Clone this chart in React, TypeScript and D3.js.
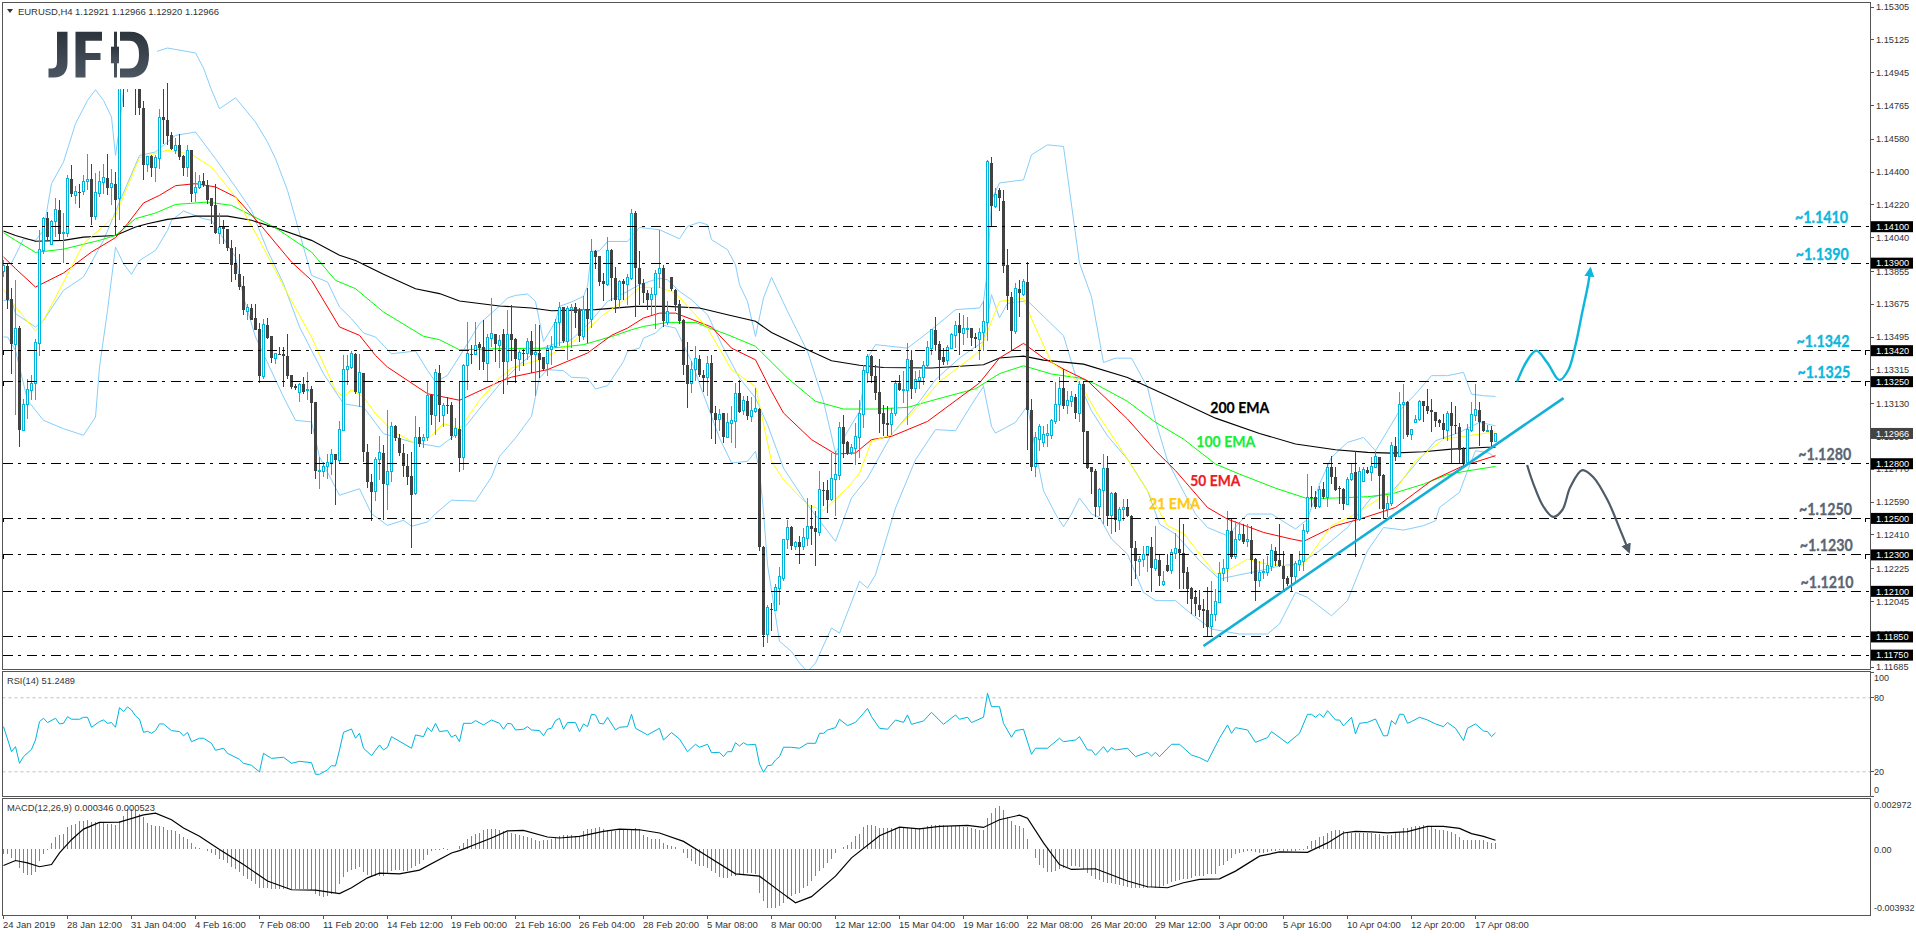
import * as d3 from "d3";

// all prices below are pips above 1.1000, bar numbers count from the left edge
type Pt = [number, number];

// open, high, low, close
const candles: number[][] = [
  [385.7,391.5,382.4,388.8],[388.3,390.1,364.7,369.6],[370.2,376.5,329.4,345.5],[345.5,380.9,306.5,354],[354.4,355.3,289.2,298.3],
  [298.3,315.7,297.9,312.6],[312.6,326.6,304.7,320.6],[320.2,328.5,314.8,324.2],[324.2,348.6,315.1,346.4],[346.2,408,338.9,397.4],
  [397,415.3,395.2,414.6],[414.6,418,402.5,404.3],[400,413.5,399.8,412.9],[412.8,425.9,404.3,419.3],[419.3,424.8,402.9,405.8],
  [406.2,417.5,390.1,406.7],[406.5,438.2,404.3,436.3],[436.3,443.6,426.3,427.7],[427.2,432.1,422.6,429.2],[429.2,433.2,420,428.8],
  [429.4,438.2,427.2,434.7],[434.7,450,429.9,435.8],[436.1,444.2,410.7,415.3],[415.8,439.6,413.5,428.6],[428,440.5,426.3,434.7],
  [434.5,444.2,427.7,436.9],[436.9,450,427.2,431.2],[431.4,441.6,421.7,433.6],[433.6,440,405.2,424.8],[425.3,492,413.5,489.3],
  [489.3,492,475.6,486.6],[485.7,492,483.9,488.4],[488.4,497,486,493],[493,497,471,487],[487,490,471,475.3],
  [475.3,478.7,435.4,443.8],[444.2,448.8,440,448.6],[448.6,449.1,437.2,442],[442.4,449.1,434.5,447.8],[447.5,474.7,441.8,469.8],
  [470.1,485.7,455.5,468.3],[468.7,488.8,454.6,459.5],[460.1,461.9,451.9,452.8],[451.9,458.8,450,454.6],[454.6,460.6,446.4,448.2],
  [448.6,449.1,437.6,442.4],[442.4,454.6,437.2,451.9],[451.9,452.2,423.5,428],[428.5,440,423.5,431.4],[431.4,438.2,430.8,435],
  [435,439.4,431.8,432.8],[433,435.8,422.6,424.4],[425.9,426,411.3,421.2],[421.7,433.6,405.8,406.5],[406.5,417.5,400.7,409.4],
  [409.8,413.8,400.7,408.7],[408.9,409,396.7,398.3],[398.5,402.9,379.7,388.8],[389.7,398.8,380.6,384.2],[384.2,395.2,375.1,376.9],
  [377.3,382.8,361.4,364.1],[363.6,367.4,358.6,365.6],[365.6,367.8,358.6,359],[359.7,367.4,353.2,353.5],[354,357.2,324.2,328.1],
  [328.1,359.2,326.6,356.3],[356.3,360.1,348.6,349.1],[349.9,350,335.2,338],[337.8,340.8,334.9,340.3],[340,344,339.4,339.6],
  [340.3,344,322.1,339],[339.3,350.9,326.6,328.1],[328.5,328.6,321.2,322.1],[322.8,323.5,320.2,321.3],[318.8,324.2,313.9,323.5],
  [323.9,327.5,318.4,319.5],[320,330.1,314.8,320.6],[321.2,322.4,296.5,313.3],[313.9,314,271.8,276],[275.6,283.7,266.3,276.4],
  [276,281,272.7,278.6],[278.2,285.5,271.8,280.6],[280.4,287.9,273.6,285.2],[285.2,285.5,257.2,281.9],[281.9,303.4,280,298.7],
  [298.3,339.4,297.9,331.6],[331.9,339.4,323,333.4],[333,341.8,332.1,340.3],[340.3,340.7,318.4,319.3],[319.3,340.3,311.1,329.9],
  [329.9,330,281,286.4],[286.4,291,266.9,270],[270.2,274.5,248.6,264.5],[264.5,283.7,259.6,282.2],[282.2,295,270.9,286],
  [286,290.1,249,268.7],[268.7,309.6,254.8,276],[276,302.9,270,300.5],[300.5,301,292.5,293.9],[294.3,296.1,284,285.9],
  [286,291,272.7,278.6],[279,285.5,268.2,272.7],[273.1,286.4,233.8,262.8],[263.6,306,263,294.6],[294.6,300.2,289.2,290.6],
  [292.5,296.1,288.8,294.6],[294.6,324.8,292.5,317.3],[317.9,318.4,301,306.5],[306.7,332.1,295.6,330.1],[329.9,333.9,302.9,312],
  [306.7,313.3,300.2,311.8],[312.2,316.4,307.5,311.7],[312,313.9,293.2,295],[295.6,305.3,294.3,299.2],[299.2,324.8,275.5,283.2],
  [283.2,334.9,276.7,333.6],[333.6,357.7,320.2,340.3],[340.3,344.9,334.9,340],[339.8,357.7,339.4,344.6],[345.5,346.8,331.2,343.5],
  [344,358.6,331.2,335.8],[335.2,351.3,324.8,349.1],[348.9,371.1,344,351.3],[351.3,351.4,335.8,345.8],[344.9,350.4,332.7,347.7],
  [351.1,354,318.4,335.8],[335.8,364.5,323.3,351.1],[351.1,367.2,336.1,348],[348.6,348.9,324.3,337.4],[337.4,342.5,330.6,340.9],
  [340.9,343.1,333.4,340.5],[340.5,348.9,337,347.1],[347.5,352.6,329.7,339.8],[339.8,356.6,316.9,340.9],[340.9,355.9,327,337],
  [338.3,338.4,330.6,331.8],[335,345.3,327.9,343.4],[342.7,350.2,334.3,344.2],[344.2,359.5,343.4,357.5],[357.3,368.5,344.4,365.7],
  [365.7,365.8,346.2,347.1],[347.1,366.3,337,365],[364.8,367.6,343.4,365.7],[365.7,368.1,354.4,362.8],[363.9,365.4,346.7,349.8],
  [349.8,371.8,348,364.5],[364.5,376.3,346.2,359.5],[359.3,403,354.4,396.5],[396.8,397.4,386.9,393.2],[393.7,393.8,377.3,379.5],
  [380,384.6,369,378.5],[378.2,404.3,377.3,396.8],[397.2,397.7,369,381.8],[381.8,387.9,362.6,369.9],[369.9,380.9,365.4,380],
  [380,381.5,369.9,378.5],[378.2,384,367.2,382.2],[381.5,419.9,380.9,417.3],[417.3,418.4,360.3,387.3],[387.3,396.5,367.2,378.5],
  [378.9,381.5,368.1,373.8],[373.8,375.4,364.5,369.6],[369.8,376.3,361.7,372.7],[372.7,386.4,354,384.6],[384.2,408.3,376.3,386.9],
  [387.3,389.1,355,358.1],[357.7,369,356.2,363.6],[382.2,382.6,374.9,376],[375.4,376,363.6,366.8],[367.6,369.9,356.6,358.1],
  [359,359.1,328.8,334.3],[334.3,346.7,310.5,323.9],[323.9,336.1,318.8,331.9],[331.6,344.4,325.2,337.6],[337.6,339.4,327.4,328.5],
  [328.8,331.6,319.3,327],[327.4,338.9,316.9,335],[335,339.4,293.7,307.8],[307.8,311.5,290.8,304.1],[304.1,310.2,298.1,307.2],
  [307.8,307.9,291.3,294.5],[294.6,307.8,294.5,302.5],[302.1,311.5,291.3,303.6],[303.2,324.3,288.6,318.6],[318.6,326.1,307.8,308.3],
  [309.1,316.9,306.9,314.6],[314.6,316.9,304.1,306],[306,316.4,302.9,309.1],[308.7,321.5,307.8,310.2],[310.2,310.5,232,234.1],
  [234.3,234.7,179.3,185.9],[186.6,202.7,181.7,201.4],[200.5,203.6,188.1,200],[199.4,214.2,199,212.2],[211.8,223.3,202.7,218],
  [217.3,238.8,215.5,238.7],[238.3,248.9,233.4,245.1],[245.3,245.7,232.9,234.7],[234.7,237.4,232.9,237],[237,240.2,225.2,234.5],
  [234.5,244.7,232.9,239.6],[239.2,261.2,234.7,245.7],[246,257.2,235.6,244.4],[244.7,253.9,224,242.5],[242,275.8,240.2,265.6],
  [265.6,270,256.6,265.2],[265.8,271.2,253,260.3],[260.3,285.9,259.4,271.8],[271.2,286.8,251.1,274],[273.6,302.9,271.2,300],
  [300,306.9,283.1,291],[291.9,292.3,285,285.9],[286.4,290.8,284.6,289],[288.6,302.3,279.5,295],[294.6,315.1,283.1,307.4],
  [306.9,334.3,299.6,331],[330.3,340.2,324.3,338.9],[338.9,339.4,324.3,327.9],[327.9,334.3,315.1,318.8],[319.3,337.6,296.8,307.4],
  [307.8,312.4,295,301.8],[302.3,311.5,295,301.4],[301.4,310.5,295.9,307.8],[307.4,326.1,306,323.9],[324.3,328.8,319.7,320.4],
  [320,330.6,313.3,320.8],[320.4,346.2,301.4,337],[337,342.2,315.7,321.1],[321.5,330.6,318.8,326.1],[325.7,331.6,321.1,327.5],
  [327.4,336.1,323.3,334],[333.6,347.1,332.5,344],[343.1,354,339.8,353.5],[353.5,360.3,341.6,345.3],[345.6,347.1,326.1,337],
  [338.3,343.4,334.3,335.8],[336.5,345.3,334.3,344],[343.4,351.7,343.4,350.8],[350.4,358.4,343.4,355.9],[356.2,362.6,339.8,351.5],
  [351.5,361.4,345.3,354],[353.9,360.3,348.9,354.2],[354.2,354.4,344.4,348.9],[349.3,351.7,343.4,348.2],[348,354.4,337,352.2],
  [351.9,369,341.6,358.1],[357.7,446.7,347.1,445.8],[445.1,448,409.6,421.1],[421.1,431.2,420.2,427.9],[430.3,431.2,418.4,425.7],
  [424,430.1,384.8,388.6],[389,397.8,364.3,372],[371.6,374,342.3,352.6],[352.4,378.9,351.1,376.3],[376.1,380.7,360.6,373.4],
  [373,381.3,372.1,380],[379.8,390.4,287.5,309.4],[309.4,315.5,276.2,278.3],[278.3,297.2,272.9,294.4],[293.5,301.7,287.1,300.3],
  [291.7,300.8,289,295.9],[295.7,301.7,289,296.3],[295.3,304.5,293.5,303.6],[303.2,324.6,301.7,312.7],[312.3,327.3,303.6,321.5],
  [321.5,331.9,310,311.4],[311.8,320,307.2,314.5],[314.2,320,310.9,316.7],[316.7,318.2,304.5,307.6],[307.6,325.5,302.7,323.7],
  [323.7,324.6,279.8,297.2],[297.7,298.1,277.1,277.4],[278,278.1,263.4,275.2],[275.8,277.1,250.6,256],[256.4,266.6,251.5,266.1],
  [265.2,285.3,246.9,277.6],[277.6,284.4,246,251.5],[251.5,264.3,241.4,263.9],[263.9,264.3,242.3,249.1],[249.1,256,243.6,255.1],
  [255,260.6,248.7,256],[256,260.6,250.6,251.1],[251.5,251.8,213.1,233.6],[233.7,237.8,216.7,226.4],[226.1,229.5,218.6,227.7],
  [227.5,235,223.1,230],[229.5,235,220.4,234.5],[234.5,239.6,209.4,222.6],[222.6,246,221,227.2],[227.2,230.4,213.1,218.6],
  [214,221.3,213.1,215.6],[224.4,230.4,220.4,221],[221.3,233.2,219.5,231.2],[230.8,241.8,227.7,233.7],[233.2,250.2,211.3,230.8],
  [230.8,246.9,211.3,219.8],[220.4,223.1,203,211.3],[211.8,212.2,197.5,205.6],[206.7,210.7,196.6,203],[202.7,210.7,195.7,199.9],
  [200.3,205.8,189.9,199.4],[199.7,212.2,184.8,190.6],[190.6,215.8,184.8,197.5],[197.5,211.3,193.5,204.3],[203.9,225.9,203.8,219.8],
  [219.8,227.7,215.8,222.8],[222.8,254.2,214.9,243.2],[243.2,249.6,227.7,229],[229,248.7,227.7,238.7],[238.5,247.8,237.8,241.4],
  [241.4,246.9,235.9,237.2],[237.2,246.9,234.1,238.7],[238.1,246,219.5,227.2],[227.7,228.1,204.9,215.8],[215.8,226.8,212.2,220.4],
  [220.2,227.7,216.7,221],[220.6,229.5,218.6,224],[223.7,236,221.3,232.3],[232.3,234.1,224,226.8],[227.2,246.9,223.1,224],
  [224,232.3,210.3,216.7],[217.3,218.6,213.1,214],[230.4,230.5,210.3,218],[218,226.8,214,225],[224.6,232.3,221.3,226.8],
  [226.4,246.9,220.9,243.2],[242.9,274.3,241.4,261.5],[261.5,267.9,256,261.2],[261.5,265.2,255.1,256],[256.4,267.9,255.7,265.7],
  [266.3,269.8,260.6,261.9],[261.5,279.8,256,278],[278.3,284.4,268.8,272.5],[272.9,278,265.2,265.5],[266.6,267.9,257.9,266.1],
  [266.3,266.6,254.6,257.9],[257.9,272.5,257.5,271.6],[271.4,279.8,270.7,274.9],[275.2,287.1,229,249.6],[249.6,278,248.7,275.8],
  [270.3,278,269.8,276.7],[276.7,278,274.3,275.1],[275.2,283.5,270.7,278.3],[278,287.1,277.6,283.8],[283.8,283.9,255.1,273.4],
  [274,274.1,249.6,255.1],[255.1,262.4,250.6,258.4],[258.4,291.7,257,289.9],[289.9,294.8,281.6,283.8],[283.8,319.1,283.7,312.7],
  [312.7,323.7,293.5,313.8],[313.8,314.2,294.4,295.9],[295.9,299,293,298.6],[302.7,306.9,302.1,304.5],[304.1,314.9,303.6,314],
  [314.2,314.5,302.7,311.6],[311.8,320.9,307.2,309],[309.4,315.5,297.2,308.1],[308.3,308.4,299.9,303.2],[304.1,304.5,299.9,302.1],
  [302.5,307.2,293.5,298.5],[298.1,308.7,292.6,307.6],[308,313.6,279.8,300.5],[301,311.8,296.3,300.5],[300.3,302.1,279.8,287.5],
  [288,288.9,278.9,279.8],[280.7,301.7,279.8,298.5],[298.1,313.6,297.2,306.9],[306.3,323.7,303.6,309.6],[309.6,313.6,289.9,302.7],
  [303.2,303.6,297.2,298.1],[298.1,301.2,297.2,298.4],[298.5,300.8,288.6,291.7],[292.1,296.6,292,296.6],
];

const ema200: Pt[] = [[0,407.6],[3,405.2],[8,402],[15,402.5],[20,404.3],[28,405.2],[33,409.8],[36,411.6],[41,414],[48,415.8],[56,415.8],[62,413.5],[68,409.4],[77,402.5],[84,394.3],[88,391.5],[95,383.9],[103,376],[109,373.3],[114,369.2],[124,366.5],[132,365.4],[137,363.9],[148,364.5],[158,366.3],[166,366.3],[174,365.4],[181,361.7],[188,358.1],[192,352],[201,342.5],[207,336.5],[214,334],[220,332.8],[232,332.5],[245,334.3],[249,338],[255,339],[260,336.8],[270,334.6],[281,327.3],[291,317.3],[303,305],[314,296.6],[323,290.8],[333,287.7],[341,286.2],[347,285.8],[355,286.6],[362,288],[371,289],[373,289]];
const ema100: Pt[] = [[0,406.7],[3,402.5],[8,395.9],[15,397.7],[24,402.5],[28,405.2],[33,414.4],[38,417.5],[43,422.2],[51,423.5],[57,421.7],[62,416.2],[68,409.4],[77,396.1],[83,380.6],[88,376],[95,363.2],[105,349.9],[109,348],[114,342.5],[124,343.1],[137,343.4],[145,345.3],[153,350.4],[157,353.5],[160,355.3],[166,357.5],[173,357.5],[177,354],[181,350.8],[188,344.4],[196,327],[203,314.2],[210,310],[218,310],[226,310.9],[232,314.6],[243,321.1],[249,329.4],[255,333.7],[262,329.2],[269,327],[273,323.7],[281,314.2],[288,302.7],[295,293.5],[303,279.8],[309,274.3],[318,266.6],[326,260.8],[333,261.2],[341,261.9],[347,263.4],[355,268.8],[361,274],[366,276.1],[373,278.5]];
const ema50: Pt[] = [[0,393.4],[3,387],[8,376.9],[15,384.6],[22,396.1],[28,404],[31,411.6],[35,423],[39,427.2],[43,432.5],[48,433.6],[53,431.8],[58,426.3],[64,411.6],[72,390.6],[77,380.6],[84,355],[89,350.4],[93,339.4],[96,333],[106,318.4],[114,314.8],[124,325],[127,327.5],[136,331.6],[146,340.7],[152,350.4],[156,354.4],[160,359.9],[164,362.6],[168,362.6],[177,355],[182,343.4],[188,337],[192,319.7],[195,307.8],[202,293.2],[208,285.3],[213,285.9],[217,293.2],[222,295],[231,303.2],[244,324.3],[249,338],[255,346],[260,338],[265,331.9],[271,325.5],[281,304.5],[288,287.1],[293,276.2],[301,256],[306,249.6],[315,242.3],[322,238.7],[325,237.4],[333,246],[339,249.6],[348,256],[357,270.7],[365,278.9],[373,284.4]];
const ema21: Pt[] = [[0,375.4],[3,366],[8,352.8],[10,358.6],[15,379.6],[20,400.7],[28,416.2],[34,447.8],[41,451.9],[47,449.7],[52,442.7],[58,426.3],[64,402.5],[71,373.3],[77,349.5],[83,320.2],[85,316.6],[87,320.6],[90,316.6],[93,307.5],[97,298.3],[103,291],[107,295.6],[110,302],[114,299.2],[119,314.8],[124,327],[127,332.5],[134,337],[140,343.4],[143,348],[150,361.7],[156,370.9],[159,376.7],[164,376.7],[168,373.6],[176,354.4],[182,331.6],[188,322.4],[192,281.3],[195,271.2],[201,257.5],[205,254.4],[211,266.7],[214,274.9],[217,292.3],[222,295.9],[229,312.4],[234,325],[244,341.6],[249,369],[255,370.8],[257,359.3],[262,335.6],[269,324.6],[273,309],[281,282.5],[287,261.5],[291,246],[295,241.8],[303,219.5],[306,221.3],[311,227.7],[315,225.3],[321,224],[325,224.6],[332,246],[338,252.4],[345,262.4],[347,262.4],[353,281.6],[360,293.5],[366,295.3],[373,297.5]];

const bbUpper: Pt[] = [[0,389.7],[2,390],[4,398.8],[5,403.4],[8,402.5],[10,408],[12,433.6],[15,445.5],[18,466.5],[21,479.3],[23,485.1],[25,479.3],[27,470.1],[28,449.1],[29,464.7],[30,485],[32,497],[35,504],[38,505.9],[41,508],[48,505.3],[50,497],[52,485],[54,474.7],[58,480.7],[63,467.4],[66,456.4],[68,447.3],[71,429.9],[73,414.4],[75,398.8],[77,383.3],[81,379.7],[84,366],[87,359.5],[90,351.7],[93,349.5],[97,340.3],[103,341.8],[106,331.2],[108,324.8],[111,328.5],[116,345.8],[119,356.8],[124,366.5],[126,370.9],[128,372.3],[131,373.1],[133,369],[134,358.1],[135,347],[138,358],[139,366.3],[142,368.7],[145,371.8],[146,377.3],[147,396.5],[149,396.8],[151,401.9],[156,401.9],[159,409.6],[164,408.3],[169,403.4],[171,410.2],[174,412.4],[176,411.1],[177,402.9],[181,397.4],[183,389.1],[184,378.2],[186,369],[188,349.8],[190,370.9],[192,382.2],[196,363.6],[201,341.6],[205,314.2],[208,285.9],[211,297.7],[214,308.7],[216,338],[218,345.3],[226,343.4],[232,353.5],[238,364.5],[244,365.4],[245,369],[246,386.3],[247,424.7],[249,434],[255,435.7],[257,449.4],[261,454.9],[265,454],[269,390],[272,371.6],[275,335.5],[278,337.9],[282,337.9],[286,321.9],[288,303.6],[291,281.6],[294,268.8],[298,252.4],[301,245],[306,240.5],[311,252.4],[317,252.4],[323,244.2],[326,249.6],[329,268.8],[332,283.5],[336,291.7],[340,294.4],[343,287.1],[349,309],[353,318.2],[357,328.3],[361,328.3],[365,330.1],[367,318.2],[370,317.3],[373,316.9]];
const bbMiddle: Pt[] = [[0,369.6],[2,369.6],[3,362.3],[8,355],[10,358.6],[15,375.1],[20,382.4],[25,402.5],[29,423.5],[34,449.1],[38,451],[43,460.1],[48,461.9],[53,447.3],[58,431.8],[62,419],[66,397],[70,378.7],[74,355],[80,329.4],[85,312.9],[90,311.1],[95,296.5],[102,291.9],[109,289.2],[115,299.2],[120,312.9],[124,323.5],[129,334.3],[133,341.6],[137,345.3],[142,348],[146,356.2],[151,369],[156,374.5],[159,378.2],[164,381.8],[166,380.9],[169,374.5],[172,369.9],[176,361.7],[180,343.4],[184,327],[188,316],[191,301.4],[195,277.6],[201,257.5],[208,237.4],[212,261.2],[216,272.2],[222,295.9],[229,314.2],[233,326.1],[239,338],[245,347.1],[247,372.7],[249,360],[251,368],[256,369.4],[265,350.2],[268,328.3],[272,309],[276,295.3],[281,282.5],[286,265.2],[289,246.9],[293,241.4],[299,226.8],[304,216.7],[308,218.6],[316,222.2],[319,224],[324,225],[329,232.3],[336,245],[342,261.5],[347,264.3],[353,279.8],[358,292.6],[364,297.2],[369,302.7],[373,300.8]];
const bbLower: Pt[] = [[0,349.5],[1,349.5],[3,342.2],[6,314.8],[10,303.8],[15,299.2],[20,295.6],[23,305.6],[24,333],[26,364.1],[28,398.8],[30,389.7],[32,383.9],[34,391.5],[38,397],[41,408],[42,413.5],[45,418.6],[50,414.4],[52,413.5],[58,393.4],[60,371.4],[63,349.5],[70,316.6],[73,303.8],[77,302.9],[79,283.7],[84,262.7],[89,266.3],[92,252.6],[96,246.2],[100,249],[102,245.7],[106,248],[108,252.6],[112,260],[118,259.5],[122,272.7],[124,284],[128,294.1],[132,306],[133,316.9],[134,327],[136,331.6],[140,331],[142,327.4],[146,327],[148,321],[151,322.8],[155,336.1],[156,341.6],[159,343.4],[160,348.9],[163,351.7],[165,355.9],[168,354.4],[172,336.1],[175,317.9],[179,294.1],[182,280.4],[186,281.3],[188,286.8],[189,275.8],[190,253.9],[191,224.6],[194,182.6],[197,177],[199,170.7],[201,166],[203,170.7],[207,189.9],[209,187.1],[214,215.5],[216,211.8],[218,219.1],[223,255.7],[228,282.2],[233,298.7],[238,298.1],[242,312.4],[245,322.4],[247,300.5],[248,296.8],[253,302.7],[256,311.8],[258,287.1],[260,265.2],[263,252.4],[265,245.4],[267,252.4],[269,261.2],[272,252.4],[274,250.6],[277,238.7],[281,230.4],[285,209.4],[288,204.9],[293,204.9],[297,197.5],[302,189.3],[309,186.6],[316,186.6],[319,192.1],[323,209.4],[326,206.7],[332,196.6],[336,204.9],[341,232.3],[345,245],[350,243.6],[355,246],[358,248.7],[359,256],[364,264.3],[366,276.1],[368,287.1],[371,286.2],[373,283.5]];

const rsi: Pt[] = [[0,56.2],[2,36],[3,40],[4,26.5],[5,31.9],[7,37.8],[8,45.4],[9,60.3],[10,63],[11,59.5],[13,63],[14,58.4],[15,58.9],[16,64.3],[17,62.2],[19,62.2],[20,63.8],[21,63.8],[22,55.7],[24,60.3],[25,61.6],[26,58.9],[27,59.5],[28,55.7],[29,71.6],[30,68.4],[31,72.2],[32,69.7],[33,64.9],[34,62.2],[35,51.6],[36,52.4],[37,50.8],[38,53],[39,58.4],[40,58.4],[42,53],[44,52.2],[45,48.7],[46,51.6],[47,44],[49,46.8],[50,46.8],[52,42.7],[53,37],[55,38.7],[56,34.6],[59,29.7],[60,26.5],[62,24.9],[64,19.5],[65,34.6],[67,30.5],[70,31.4],[72,26.5],[74,28.1],[77,27],[78,17.6],[79,17.6],[81,21.1],[82,24.6],[83,24.3],[84,37.3],[85,51.6],[87,54.3],[88,46.8],[89,50.8],[90,38.7],[92,32.7],[94,41.4],[95,37.3],[96,39.5],[97,48.1],[102,38.7],[103,49.5],[105,48.1],[106,55.4],[107,52.2],[108,58.9],[109,52.2],[111,53],[112,47.6],[113,49.5],[114,44],[115,58.9],[117,58.9],[118,61.1],[120,57.6],[122,61.6],[124,58.9],[125,54.1],[126,58.9],[127,58.4],[128,53.5],[130,54.1],[131,56.2],[132,53.5],[134,53],[135,48.9],[136,54.1],[137,54.9],[138,61.1],[139,63],[140,54.1],[141,59.5],[143,59.5],[144,52.2],[145,58.4],[146,56.2],[147,66.2],[148,65.7],[149,58.9],[150,58.4],[151,63.8],[153,53.5],[154,55.7],[156,56.2],[157,66.2],[158,54.9],[161,49.5],[164,54.9],[165,45.4],[167,51.4],[169,46.2],[171,35.9],[173,41.9],[174,39.5],[176,41.9],[177,35.1],[179,35.4],[180,31.9],[181,35.9],[182,35.9],[183,43.2],[184,40.5],[185,43.2],[186,41.4],[188,41.9],[189,25.9],[190,19.2],[191,24.6],[192,24.9],[193,29.2],[194,31.9],[195,39.5],[197,39.5],[199,38.7],[201,42.7],[203,42.7],[204,50.8],[205,50.8],[206,53.5],[208,55.4],[209,62.2],[211,57],[213,59.7],[215,67],[216,71],[217,64.3],[219,54.9],[221,54.1],[223,61.6],[225,59.7],[226,65.7],[227,58.1],[230,60.8],[232,67.8],[235,58.1],[238,65.7],[239,62.2],[241,63.8],[242,59.5],[245,63.8],[246,83.3],[247,72.4],[249,72.4],[250,58.9],[252,47.6],[253,53],[255,54.1],[257,33.8],[258,38.7],[261,38.7],[264,46.8],[265,44],[268,45.4],[269,48.1],[271,37.3],[272,37.3],[273,33],[275,40],[276,35.4],[277,39.2],[278,37.3],[281,38.7],[283,31.9],[286,35.4],[287,32.4],[288,35.4],[289,31.9],[292,41.9],[294,41.9],[297,33.2],[299,31.1],[301,27.8],[304,46.8],[306,57.6],[307,50.8],[308,55.4],[311,53.5],[313,43.5],[316,47.3],[317,52.2],[321,42.7],[324,50.8],[326,66.2],[327,66.2],[328,63.8],[329,66.5],[330,63.8],[331,69.2],[333,61.6],[334,61.6],[335,56.8],[337,63.8],[338,50.3],[339,58.9],[341,59.7],[343,62.4],[345,48.7],[346,48.9],[347,61.1],[348,58.1],[349,66.2],[350,66.2],[351,58.9],[352,60.3],[354,63.8],[356,61.6],[358,58.4],[360,56.2],[361,59.5],[363,54.9],[365,44.9],[366,54.9],[368,58.4],[370,52.7],[371,52.2],[372,48.1],[373,51.2]];

// macd values are in units of 0.00001
const macdHist: number[] = [
  -33,-33,-53,-73,-112,-146,-156,-156,-138,-73,-33,-4,35,71,81,91,128,140,148,164,
  169,173,162,158,160,154,150,150,140,164,197,236,236,229,209,189,154,144,138,136,
  130,110,110,104,91,71,59,35,12,6,0,-14,-24,-39,-57,-67,-83,-106,-122,-136,
  -162,-177,-193,-211,-234,-234,-234,-236,-236,-236,-240,-240,-240,-240,-240,-240,-240,-246,-266,-280,
  -284,-280,-270,-260,-211,-165,-138,-126,-118,-106,-138,-158,-162,-162,-162,-162,-142,-132,-128,-126,
  -132,-132,-112,-102,-87,-67,-39,-14,-8,-4,4,-4,0,0,16,35,59,79,91,95,
  110,118,120,118,110,108,99,95,91,85,79,71,65,55,49,51,55,59,71,75,
  81,83,85,79,75,104,118,120,124,130,120,110,104,104,118,120,118,120,124,118,
  85,71,59,59,59,35,26,20,12,0,-24,-53,-73,-87,-99,-102,-112,-132,-146,-165,
  -171,-175,-162,-162,-152,-152,-146,-142,-152,-260,-309,-349,-353,-351,-339,-323,-299,-280,-270,-260,
  -230,-221,-191,-162,-132,-112,-83,-57,-24,0,12,24,39,75,91,130,140,140,134,124,
  124,122,122,122,122,122,122,122,122,122,122,134,140,142,142,142,134,134,134,134,
  130,130,124,118,114,110,183,213,242,256,232,193,164,144,134,124,59,0,-53,-93,
  -112,-138,-138,-132,-122,-112,-106,-102,-99,-106,-122,-142,-162,-177,-185,-197,-201,-205,-211,-217,
  -221,-227,-230,-230,-234,-230,-230,-227,-230,-230,-221,-211,-197,-191,-185,-181,-177,-171,-162,-162,
  -162,-152,-152,-152,-102,-93,-73,-53,-33,-24,-20,-14,-14,-20,-24,-24,-20,-14,-10,-8,
  -14,-14,-14,-14,-8,-8,20,45,55,71,79,95,104,110,110,104,99,95,95,95,
  95,95,95,91,89,75,85,85,99,99,124,124,128,134,138,140,134,128,120,114,
  110,104,99,91,71,51,51,55,55,55,51,39,35,35,
];
const macdSignal: Pt[] = [[0,-99],[3,-69],[6,-83],[9,-106],[12,-93],[14,-24],[17,55],[20,118],[24,158],[29,160],[35,203],[38,213],[42,174],[45,124],[49,75],[54,-4],[60,-93],[66,-191],[72,-243],[78,-245],[84,-266],[87,-231],[91,-172],[94,-144],[99,-148],[104,-126],[112,-24],[114,-10],[122,65],[126,107],[130,110],[136,71],[139,65],[144,75],[150,105],[154,118],[159,114],[164,95],[170,45],[176,-43],[183,-148],[189,-162],[194,-251],[198,-320],[202,-284],[208,-162],[212,-53],[219,79],[224,130],[229,120],[234,134],[241,140],[245,128],[249,174],[254,201],[256,183],[260,36],[264,-93],[267,-122],[273,-118],[281,-191],[286,-225],[291,-231],[295,-201],[299,-181],[304,-178],[308,-132],[314,-43],[319,-18],[326,-20],[331,36],[335,95],[338,105],[342,101],[346,95],[351,103],[356,134],[360,134],[364,122],[367,91],[370,75],[373,52]];

const levels = [410, 390, 342, 325, 280, 250, 230, 210, 185, 175];
const hookLevels = [342, 325, 250, 230];
const levelStubs = [[64,66,325],[114,116,325],[192,194,185],[234,236,325],[270,272,280],[294,296,250],[306,308,250],[345,347,250],[362,365,280]];
const priceTicks = ["1.15305","1.15125","1.14945","1.14765","1.14580","1.14400","1.14220","1.14040","1.13855","1.13675","1.13495","1.13315","1.13130","1.12950","1.12770","1.12590","1.12410","1.12225","1.12045","1.11865","1.11685"];
const dateLabels = ["24 Jan 2019","28 Jan 12:00","31 Jan 04:00","4 Feb 16:00","7 Feb 08:00","11 Feb 20:00","14 Feb 12:00","19 Feb 00:00","21 Feb 16:00","26 Feb 04:00","28 Feb 20:00","5 Mar 08:00","8 Mar 00:00","12 Mar 12:00","15 Mar 04:00","19 Mar 16:00","22 Mar 08:00","26 Mar 20:00","29 Mar 12:00","3 Apr 00:00","5 Apr 16:00","10 Apr 04:00","12 Apr 20:00","17 Apr 08:00"];
const levelNotes = [
  { text: "~1.1410", pips: 410, color: "#0cb6dc" }, { text: "~1.1390", pips: 390, color: "#0cb6dc" },
  { text: "~1.1342", pips: 342, color: "#0cb6dc" }, { text: "~1.1325", pips: 325, color: "#0cb6dc" },
  { text: "~1.1280", pips: 280, color: "#5a6672" }, { text: "~1.1250", pips: 250, color: "#5a6672" },
  { text: "~1.1230", pips: 230, color: "#5a6672" }, { text: "~1.1210", pips: 210, color: "#5a6672" },
];
const emaNotes = [
  { text: "200 EMA", bar: 301.7, pips: 308, color: "#000000", width: 59 },
  { text: "100 EMA", bar: 298.2, pips: 289, color: "#17ee36", width: 59 },
  { text: "50 EMA", bar: 296.7, pips: 268, color: "#ed1c24", width: 50 },
  { text: "21 EMA", bar: 286.4, pips: 255, color: "#ffc90e", width: 51 },
];

const trendLine: Pt[] = [[300,180],[390,316]];
const upPath: Pt[] = [[378.4,325],[381,336.9],[383.2,342],[386,335.2],[389,325.9],[391.2,331.4],[393,345.1],[394.7,363.2],[396.2,379],[396.7,387]];
const downPath: Pt[] = [[380.9,279.3],[382.4,269.4],[385,256.4],[387.4,250.8],[389.7,254.6],[391.7,267.2],[394.7,276.5],[397.4,272.7],[401,260.1],[404.2,243.6],[406.4,231.7]];

const LEFT = 2.5;
const RIGHT = 1870.5;
const UI = "'Liberation Sans', Arial, sans-serif";
const NOTE = "Lato, 'Open Sans', sans-serif";
const BLUE = "#00b4dc";
const DARK = "#424242";
const TEXT = "#333";

const x = d3.scaleLinear().domain([0, 373]).range([3.5, 1495.5]);
const yPrice = d3.scaleLinear().domain([1.11685, 1.15305]).range([667, 7]);
const yPips = (p: number) => yPrice(1.1 + p / 10000);
const yRsi = d3.scaleLinear().domain([0, 100]).range([796, 672.6]);
const yMacd = d3.scaleLinear().domain([-393.2, 297.2]).range([915, 799]);

const pipLine = d3.line<Pt>().x((d) => x(d[0])).y((d) => yPips(d[1]));
const smoothPip = d3.line<Pt>().x((d) => x(d[0])).y((d) => yPips(d[1])).curve(d3.curveCatmullRom.alpha(0.5));
const rsiLine = d3.line<Pt>().x((d) => x(d[0])).y((d) => yRsi(d[1]));
const macdLine = d3.line<Pt>().x((d) => x(d[0])).y((d) => yMacd(d[1]));

function Candles() {
  return (
    <g shapeRendering="crispEdges">
      {candles.map(([o, h, l, c], i) => {
        const up = c >= o;
        const cx = x(i);
        const top = yPips(Math.max(o, c));
        const bottom = yPips(Math.min(o, c));
        const color = up ? BLUE : DARK;
        return (
          <g key={i}>
            <line x1={cx} x2={cx} y1={yPips(h)} y2={yPips(l)} stroke={color} />
            {up ? (
              <rect x={cx - 1} y={top} width={2} height={Math.max(bottom - top, 1)} fill="#fff" stroke={color} />
            ) : (
              <rect x={cx - 1.5} y={top} width={3} height={Math.max(bottom - top, 1)} fill={color} />
            )}
          </g>
        );
      })}
    </g>
  );
}

function Logo() {
  return (
    <g fill="url(#logoFill)">
      <rect x={3} y={26} width={154} height={63} fill="#fff" />
      <path d="M57,31.7 H67.5 V62 Q67.5,77.5 54,77.5 H48.5 V68.5 H52 Q57,68.5 57,62 Z" />
      <path d="M75.5,31.7 H102 V40.7 H85.5 V53 H100.5 V60 H85.5 V77.5 H75.5 Z" />
      <rect x={114} y={31.7} width={3} height={45.8} />
      <rect x={111} y={46.7} width={8} height={16.6} />
      <path d="M120,31.7 H130 Q149,31.7 149,54.5 Q149,77.5 130,77.5 H120 V68.5 H129 Q139,68.5 139,54.5 Q139,40.7 129,40.7 H120 Z" />
    </g>
  );
}

function AxisLabel({ y, text }: { y: number; text: string }) {
  return <text x={1876} y={y} dy="0.35em" fontSize={9.2} fill={TEXT}>{text}</text>;
}

function PaneLabel({ y, text }: { y: number; text: string }) {
  return <text x={1874} y={y} dy="0.35em" fontSize={9} fill={TEXT}>{text}</text>;
}

export default function App() {
  const zero = yMacd(0);
  return (
    <svg width={1916} height={936} style={{ position: "absolute", left: 0, top: 0, background: "#fff" }} fontFamily={UI}>
      <defs>
        <clipPath id="mainClip"><rect x={LEFT} y={3} width={RIGHT - LEFT} height={666} /></clipPath>
        <linearGradient id="logoFill" x1="0" x2="0" y1="0" y2="1">
          <stop offset="0" stopColor="#2d343c" />
          <stop offset="1" stopColor="#4b5662" />
        </linearGradient>
        <marker id="upHead" markerUnits="userSpaceOnUse" markerWidth={12} markerHeight={12} refX={8} refY={5} orient="auto">
          <path d="M0,0 L10,5 L0,10 Z" fill="#0cb6dc" />
        </marker>
        <marker id="downHead" markerUnits="userSpaceOnUse" markerWidth={12} markerHeight={12} refX={8} refY={5} orient="auto">
          <path d="M0,0 L10,5 L0,10 Z" fill="#4f5b67" />
        </marker>
      </defs>

      <g clipPath="url(#mainClip)">
        {[bbUpper, bbMiddle, bbLower].map((s, i) => (
          <path key={i} d={pipLine(s) ?? ""} fill="none" stroke="#87cefa" strokeWidth={1} />
        ))}
        <path d={pipLine(ema200) ?? ""} fill="none" stroke="#000" strokeWidth={1.1} />
        <path d={pipLine(ema100) ?? ""} fill="none" stroke="#00ff00" strokeWidth={1} />
        <path d={pipLine(ema50) ?? ""} fill="none" stroke="#ff0000" strokeWidth={1} />
        <path d={pipLine(ema21) ?? ""} fill="none" stroke="#ffff00" strokeWidth={1} />
        <Candles />
      </g>

      <Logo />

      <g shapeRendering="crispEdges" stroke="#000">
        {levels.map((p) => (
          <line key={p} x1={LEFT} x2={RIGHT} y1={yPips(p)} y2={yPips(p)} strokeDasharray="10 5 3 6" />
        ))}
        {levelStubs.map(([a, b, p], i) => (
          <line key={i} x1={x(a)} x2={x(b)} y1={yPips(p)} y2={yPips(p)} />
        ))}
        {hookLevels.map((p) => (
          <path key={p} fill="none" d={`M3.5,${yPips(p) + 4} V${yPips(p)} H8 M1865.5,${yPips(p) + 4} V${yPips(p)} H1870`} />
        ))}
      </g>

      <path d={pipLine(trendLine) ?? ""} fill="none" stroke="#12afd6" strokeWidth={2.6} />
      <path d={smoothPip(upPath) ?? ""} fill="none" stroke="#0cb6dc" strokeWidth={2.4} markerEnd="url(#upHead)" />
      <path d={smoothPip(downPath) ?? ""} fill="none" stroke="#4f5b67" strokeWidth={2.2} markerEnd="url(#downHead)" />

      {emaNotes.map((n) => (
        <text key={n.text} x={x(n.bar)} y={yPips(n.pips)} fontFamily={NOTE} fontWeight={700} fontSize={16} fill={n.color} stroke={n.color} strokeWidth={0.25} textLength={n.width} lengthAdjust="spacingAndGlyphs">{n.text}</text>
      ))}
      {levelNotes.map((n, i) => (
        <text key={n.text} x={1795 + i * 0.8} y={yPips(n.pips) - 3.5} fontFamily={NOTE} fontWeight={700} fontSize={17} fill={n.color} stroke={n.color} strokeWidth={0.3} textLength={53} lengthAdjust="spacingAndGlyphs">{n.text}</text>
      ))}

      {/* RSI pane */}
      {[80, 20].map((v) => (
        <line key={v} x1={LEFT} x2={RIGHT} y1={yRsi(v) + 0.5} y2={yRsi(v) + 0.5} stroke="#c0c0c0" strokeDasharray="3 3" />
      ))}
      <path d={rsiLine(rsi) ?? ""} fill="none" stroke={BLUE} strokeWidth={1} />

      {/* MACD pane */}
      <g stroke={BLUE} strokeWidth={1} shapeRendering="crispEdges">
        {macdHist.map((v, i) => (
          <line key={i} x1={x(i)} x2={x(i)} y1={zero} y2={yMacd(v)} />
        ))}
      </g>
      <path d={macdLine(macdSignal) ?? ""} fill="none" stroke="#000" strokeWidth={1.2} />

      {/* pane frames */}
      <g fill="none" stroke="#555" shapeRendering="crispEdges">
        <rect x={LEFT} y={2.5} width={RIGHT - LEFT} height={666.5} />
        <rect x={LEFT} y={671.5} width={RIGHT - LEFT} height={124.5} />
        <rect x={LEFT} y={798.5} width={RIGHT - LEFT} height={116.5} />
      </g>

      {/* price axis */}
      <g shapeRendering="crispEdges" stroke="#555">
        {priceTicks.map((t) => (
          <line key={t} x1={RIGHT} x2={RIGHT + 3} y1={yPrice(+t)} y2={yPrice(+t)} />
        ))}
        {[100, 80, 20, 0].map((v) => (
          <line key={v} x1={RIGHT} x2={RIGHT + 3} y1={yRsi(v)} y2={yRsi(v)} />
        ))}
        {dateLabels.map((d, i) => (
          <line key={d} x1={x(i * 16)} x2={x(i * 16)} y1={915} y2={919} />
        ))}
      </g>
      {priceTicks.map((t) => (
        <AxisLabel key={t} y={yPrice(+t)} text={t} />
      ))}
      {levels.map((p) => (
        <g key={p}>
          <rect x={1871} y={yPips(p) - 5.5} width={42} height={11} fill="#000" />
          <text x={1876} y={yPips(p)} dy="0.35em" fontSize={9.2} fill="#fff">{(1.1 + p / 10000).toFixed(5)}</text>
        </g>
      ))}
      <rect x={1871} y={yPips(296.6) - 5.5} width={42} height={11} fill="#444" />
      <text x={1876} y={yPips(296.6)} dy="0.35em" fontSize={9.2} fill="#fff">1.12966</text>

      <PaneLabel y={678} text="100" />
      <PaneLabel y={697.5} text="80" />
      <PaneLabel y={771.5} text="20" />
      <PaneLabel y={790} text="0" />
      <PaneLabel y={805} text="0.002972" />
      <PaneLabel y={849.5} text="0.00" />
      <PaneLabel y={908} text="-0.003932" />

      {dateLabels.map((d, i) => (
        <text key={d} x={x(i * 16) - 0.5} y={928} fontSize={9.5} fill={TEXT}>{d}</text>
      ))}

      <path d="M7,9 H13 L10,13 Z" fill={TEXT} />
      <text x={18} y={14.5} fontSize={9.5} fill={TEXT} textLength={201} lengthAdjust="spacing">EURUSD,H4 1.12921 1.12966 1.12920 1.12966</text>
      <text x={7} y={684} fontSize={9.5} fill={TEXT} textLength={68} lengthAdjust="spacingAndGlyphs">RSI(14) 51.2489</text>
      <text x={7} y={811} fontSize={9.5} fill={TEXT} textLength={148} lengthAdjust="spacingAndGlyphs">MACD(12,26,9) 0.000346 0.000523</text>
    </svg>
  );
}
